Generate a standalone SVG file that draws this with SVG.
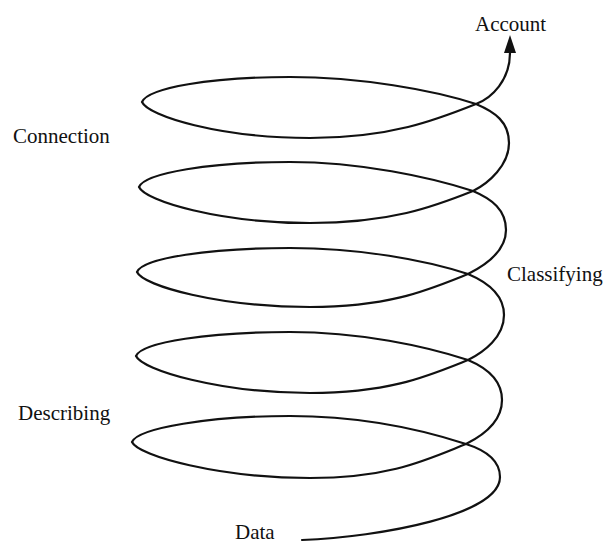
<svg xmlns="http://www.w3.org/2000/svg" width="605" height="544" viewBox="0 0 605 544">
<style>
.lbl{font-family:"Liberation Serif","Times New Roman",serif;font-size:21px;fill:#111}
.sp{fill:none;stroke:#111;stroke-width:2.2;stroke-linecap:round;stroke-linejoin:round}
</style>
<defs>
<marker id="ah" markerUnits="userSpaceOnUse" markerWidth="20" markerHeight="14" refX="0" refY="7" orient="auto" viewBox="0 0 20 14">
<path d="M0,1 L18,7 L0,13 z" fill="#111"/>
</marker>
</defs>
<rect width="605" height="544" fill="#fff"/>
<g id="connectors">
<path class="sp" marker-end="url(#ah)" d="M 302,540
C 380,537 500,515 500,477
C 500,460 485,450 466,444
C 423,430 360,416 290,416
C 210,416 138,428 132,442
C 138,456 220,478 310,478
C 390,478 426,460 466,444
C 482,436 502,422 502,400
C 502,380 487,368 468,360
C 425,346 360,332 290,332
C 210,332 142,342 136,356
C 142,370 220,393 310,393
C 390,393 428,376 468,360
C 484,352 504,337 504,315
C 504,295 487,282 468,274
C 425,260 360,248 290,248
C 210,248 143,258 137,272
C 143,286 220,307 310,307
C 390,307 428,290 468,274
C 484,266 506,252 506,230
C 506,210 492,199 473,191
C 430,177 360,162 290,162
C 210,162 145,173 139,187
C 145,201 220,223 310,223
C 390,223 433,207 473,191
C 489,183 509,165 509,143
C 509,122 495,112 476,104
C 433,90 360,77 290,77
C 210,77 148,88 142,102
C 148,116 220,138 310,138
C 390,138 436,120 476,104
C 492,98 510,80 510,53"/>
</g>
<g id="account"><text class="lbl" x="475" y="31">Account</text></g>
<g id="connection"><text class="lbl" x="13" y="143">Connection</text></g>
<g id="classifying"><text class="lbl" x="507" y="281">Classifying</text></g>
<g id="describing"><text class="lbl" x="18" y="420">Describing</text></g>
<g id="data"><text class="lbl" x="235" y="539">Data</text></g>
</svg>
